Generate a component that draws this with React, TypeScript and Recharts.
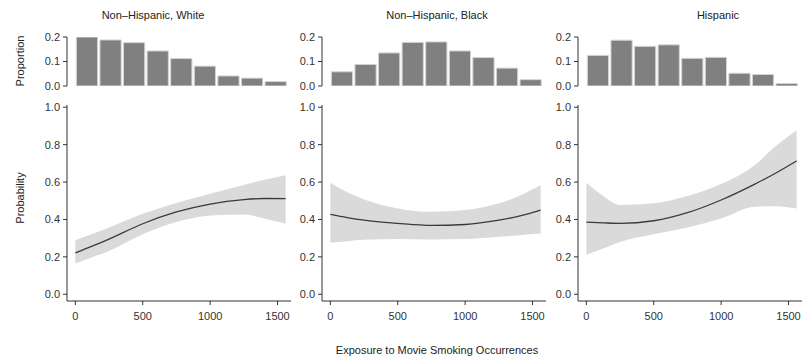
// Three panels: exposure histogram on top, fitted probability with confidence band below.
import { Area, Bar, BarChart, ComposedChart, Line, XAxis, YAxis } from "recharts";

const PANEL_TITLES = ["Non–Hispanic, White", "Non–Hispanic, Black", "Hispanic"];

// Histogram bins (midpoints of 175-wide bins) and proportions per group.
const BIN_MIDS = [87.5, 262.5, 437.5, 612.5, 787.5, 962.5, 1137.5, 1312.5, 1487.5];
const PROP_WHITE = [0.2, 0.188, 0.177, 0.143, 0.112, 0.081, 0.041, 0.032, 0.018];
const PROP_BLACK = [0.058, 0.088, 0.135, 0.178, 0.18, 0.143, 0.116, 0.073, 0.026];
const PROP_HISP = [0.125, 0.187, 0.162, 0.168, 0.113, 0.117, 0.052, 0.047, 0.01];

// Fitted curve and band, read at these exposure values.
const EXPOSURE = [0, 125, 250, 500, 750, 1000, 1250, 1400, 1560];
const FIT_WHITE = [0.221, 0.257, 0.295, 0.377, 0.44, 0.482, 0.506, 0.512, 0.511];
const LO_WHITE = [0.164, 0.198, 0.232, 0.321, 0.386, 0.421, 0.427, 0.405, 0.379];
const HI_WHITE = [0.289, 0.322, 0.357, 0.43, 0.488, 0.537, 0.584, 0.612, 0.636];
const FIT_BLACK = [0.427, 0.41, 0.396, 0.379, 0.368, 0.373, 0.396, 0.418, 0.45];
const LO_BLACK = [0.275, 0.284, 0.291, 0.296, 0.293, 0.295, 0.307, 0.316, 0.325];
const HI_BLACK = [0.596, 0.545, 0.507, 0.459, 0.441, 0.45, 0.486, 0.525, 0.584];
const FIT_HISP = [0.386, 0.382, 0.379, 0.393, 0.436, 0.504, 0.589, 0.646, 0.713];
const LO_HISP = [0.211, 0.245, 0.28, 0.321, 0.357, 0.405, 0.468, 0.471, 0.459];
const HI_HISP = [0.596, 0.525, 0.477, 0.486, 0.525, 0.589, 0.691, 0.789, 0.875];

const X_TICKS = [0, 500, 1000, 1500];
const PROB_TICKS = [0, 0.2, 0.4, 0.6, 0.8, 1.0];
const PROP_TICKS = [0, 0.1, 0.2];

const FONT = "'Liberation Sans', Arial, Helvetica, sans-serif";
const AXIS_COLOR = "#333";
const X_DOMAIN: [number, number] = [-62, 1600];
const PANEL_LEFT = [67, 322, 578];
const TITLE_X = [153, 437, 718];
const AXIS_W = 50;
const PLOT_W = 224;

const groups = [
  { prop: PROP_WHITE, fit: FIT_WHITE, lo: LO_WHITE, hi: HI_WHITE },
  { prop: PROP_BLACK, fit: FIT_BLACK, lo: LO_BLACK, hi: HI_BLACK },
  { prop: PROP_HISP, fit: FIT_HISP, lo: LO_HISP, hi: HI_HISP },
];

const tick = { fontSize: 11, fill: AXIS_COLOR, fontFamily: FONT };
const textStyle = { position: "absolute" as const, fontFamily: FONT, fontSize: 11, color: "#222", whiteSpace: "nowrap" as const };

function Panel({ index }: { index: number }) {
  const g = groups[index];
  const hist = BIN_MIDS.map((x, i) => ({ x, p: g.prop[i] }));
  const curve = EXPOSURE.map((x, i) => ({ x, fit: g.fit[i], band: [g.lo[i], g.hi[i]] }));
  const left = PANEL_LEFT[index] - AXIS_W;
  const binPx = (PLOT_W * 175) / (X_DOMAIN[1] - X_DOMAIN[0]);

  return (
    <>
      <div style={{ ...textStyle, left: TITLE_X[index], top: 15, transform: "translate(-50%, -50%)" }}>
        {PANEL_TITLES[index]}
      </div>
      <div style={{ position: "absolute", left, top: 32 }}>
        <BarChart width={AXIS_W + PLOT_W + 5} height={62} data={hist} margin={{ top: 5, right: 5, bottom: 8, left: 0 }}>
          <XAxis dataKey="x" type="number" domain={X_DOMAIN} allowDataOverflow hide />
          <YAxis
            domain={[0, 0.2]}
            allowDataOverflow
            ticks={PROP_TICKS}
            interval={0}
            tickFormatter={(v: number) => v.toFixed(1)}
            width={AXIS_W}
            tick={tick}
            tickSize={4}
            tickMargin={3}
            stroke={AXIS_COLOR}
          />
          <Bar dataKey="p" fill="#808080" stroke="#d4d4d4" strokeWidth={1} barSize={binPx} isAnimationActive={false} />
        </BarChart>
      </div>
      <div style={{ position: "absolute", left, top: 100 }}>
        <ComposedChart width={AXIS_W + PLOT_W + 5} height={231} data={curve} margin={{ top: 5, right: 5, bottom: 0, left: 0 }}>
          <XAxis
            dataKey="x"
            type="number"
            domain={X_DOMAIN}
            allowDataOverflow
            ticks={X_TICKS}
            interval={0}
            height={30}
            tick={tick}
            tickSize={4}
            tickMargin={7}
            stroke={AXIS_COLOR}
          />
          <YAxis
            domain={[-0.036, 1.012]}
            allowDataOverflow
            ticks={PROB_TICKS}
            interval={0}
            tickFormatter={(v: number) => v.toFixed(1)}
            width={AXIS_W}
            tick={tick}
            tickSize={4}
            tickMargin={3}
            stroke={AXIS_COLOR}
          />
          <Area type="monotone" dataKey="band" fill="#dadada" fillOpacity={1} stroke="none" isAnimationActive={false} />
          <Line type="monotone" dataKey="fit" stroke="#3a3a3a" strokeWidth={1.3} dot={false} isAnimationActive={false} />
        </ComposedChart>
      </div>
    </>
  );
}

export default function App() {
  return (
    <div style={{ position: "absolute", left: 0, top: 0, width: 803, height: 362, background: "#fff", overflow: "hidden" }}>
      <div style={{ ...textStyle, left: 20, top: 61, transform: "translate(-50%, -50%) rotate(-90deg)" }}>Proportion</div>
      <div style={{ ...textStyle, left: 20, top: 198, transform: "translate(-50%, -50%) rotate(-90deg)" }}>Probability</div>
      {[0, 1, 2].map((i) => (
        <Panel key={i} index={i} />
      ))}
      <div style={{ ...textStyle, left: 437, top: 350, transform: "translate(-50%, -50%)" }}>
        Exposure to Movie Smoking Occurrences
      </div>
    </div>
  );
}
